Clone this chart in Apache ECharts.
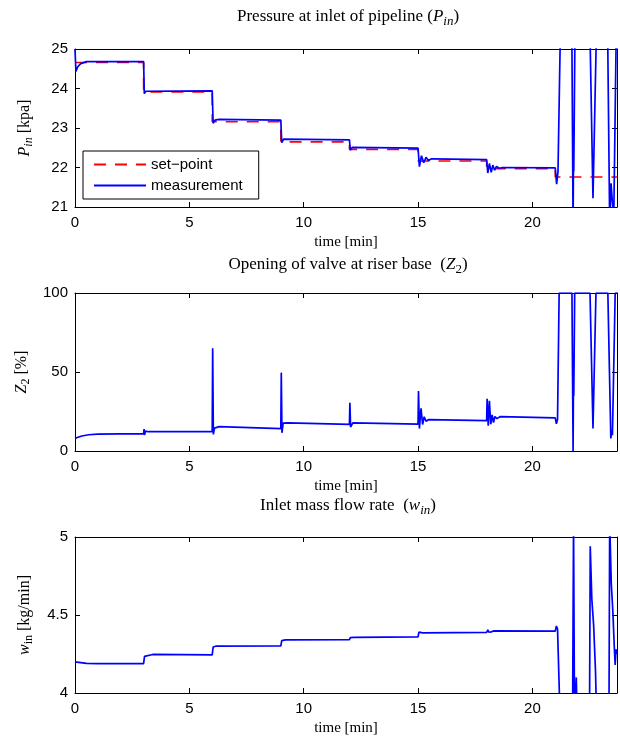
<!DOCTYPE html>
<html><head><meta charset="utf-8">
<script src="https://cdn.jsdelivr.net/npm/echarts@6/dist/echarts.min.js"></script>
<style>html,body{margin:0;padding:0;background:#fff}#c{width:620px;height:737px}</style>
</head><body><div id="c"></div>
<script>
// ---------- data ----------
const xTickLabels = [0, 5, 10, 15, 20];

// Pressure set-point [kpa]
const tSet = [0, 3, 3, 6, 6, 9, 9, 12, 12, 15, 15, 18, 18, 21, 21, 23.7];
const pSet = [24.66, 24.66, 23.91, 23.91, 23.16, 23.16, 22.65, 22.65, 22.46, 22.46, 22.165, 22.165, 21.97, 21.97, 21.76, 21.76];

// Pressure measurement [kpa]
const tP = [0, 0.04, 0.12, 0.25, 0.5, 3.0, 3.03, 3.1, 6.0, 6.04, 6.12, 6.3, 9.0, 9.04, 9.12, 12.0, 12.04, 12.12,
  15.0, 15.06, 15.15, 15.25, 15.35, 15.45, 15.6, 18.0, 18.05, 18.12, 18.2, 18.27, 18.35, 18.43, 18.55, 18.7,
  21.0, 21.06, 21.12, 21.24, 21.72, 21.78, 21.8, 21.81, 21.87, 22.5, 22.65, 22.82, 23.28, 23.38, 23.44, 23.5, 23.56, 23.68];
const pMeas = [25.0, 24.43, 24.55, 24.63, 24.68, 24.68, 23.87, 23.93, 23.94, 23.12, 23.2, 23.22, 23.2, 22.63, 22.72, 22.7, 22.44, 22.51,
  22.49, 22.02, 22.3, 22.12, 22.26, 22.18, 22.22, 22.2, 21.86, 22.1, 21.88, 22.06, 21.93, 22.03, 21.98, 22.0,
  21.99, 21.58, 21.9, 26.0, 26.0, 20.5, 22.6, 21.9, 26.0, 26.0, 21.22, 26.0, 26.0, 20.6, 21.6, 21.1, 20.8, 26.0];

// Valve opening Z2 [%]
const tZ = [0, 0.1, 0.3, 0.6, 1.0, 2.0, 3.0, 3.02, 3.04, 3.08, 3.2, 6.0, 6.02, 6.05, 6.1, 6.3, 9.0, 9.02, 9.05, 9.1, 9.3,
  12.0, 12.02, 12.05, 12.15, 15.0, 15.02, 15.06, 15.13, 15.2, 15.27, 15.35, 15.45, 18.0, 18.02, 18.07, 18.12, 18.18, 18.24,
  18.3, 18.36, 18.45, 18.6, 21.0, 21.05, 21.1, 21.17, 21.73, 21.78, 21.8, 21.81, 21.85, 22.52, 22.65, 22.78, 23.3, 23.43,
  23.47, 23.5, 23.62, 23.7];
const zMeas = [8.0, 8.5, 9.5, 10.3, 10.7, 10.8, 10.9, 13.9, 10.1, 12.6, 12.2, 12.3, 65.0, 10.5, 14.5, 15.4, 14.2, 49.6, 11.5, 17.6, 17.8,
  16.9, 30.6, 15.2, 17.8, 17.0, 38.0, 14.2, 27.0, 16.8, 21.7, 18.8, 19.8, 19.2, 33.0, 16.0, 31.8, 17.0, 22.8,
  18.0, 21.8, 20.5, 21.8, 21.0, 17.2, 20.0, 100, 100, 0, 55, 35, 100, 100, 14.3, 100, 100, 8.0,
  13.0, 10.0, 100, 100];

// Inlet mass flow rate w_in [kg/min]
const tW = [0, 0.05, 0.5, 1.0, 3.0, 3.04, 3.1, 3.4, 6.0, 6.04, 6.15, 9.0, 9.04, 9.2, 12.0, 12.04, 12.2, 15.0, 15.04, 15.1, 15.2,
  18.0, 18.05, 18.1, 18.15, 18.2, 18.3, 21.0, 21.05, 21.1, 21.2, 21.76, 21.8, 21.84, 21.88, 21.92, 21.95, 22.5, 22.53, 22.6,
  22.68, 22.76, 22.8, 23.35, 23.38, 23.45, 23.52, 23.58, 23.62, 23.66, 23.7];
const wMeas = [4.2, 4.195, 4.19, 4.188, 4.188, 4.235, 4.24, 4.247, 4.245, 4.295, 4.30, 4.302, 4.336, 4.34, 4.342, 4.355, 4.356, 4.36, 4.39, 4.378, 4.385,
  4.388, 4.405, 4.39, 4.402, 4.392, 4.398, 4.397, 4.43, 4.41, 3.9, 3.9, 5.1, 3.9, 3.95, 4.1, 3.9, 3.9, 4.94, 4.6,
  4.43, 4.14, 3.9, 3.9, 5.1, 4.7, 4.52, 4.3, 4.18, 4.28, 4.25];

// ---------- chart ----------
const SERIF = 'Liberation Serif';
const SANS = 'Liberation Sans';
const zip = (a, b) => a.map((v, i) => [v, b[i]]);

const grids = [
  {left: 75, top: 49, width: 546, height: 158},
  {left: 75, top: 293, width: 546, height: 158},
  {left: 75, top: 537, width: 546, height: 158}
];

const nameRich = {
  i: {fontFamily: SERIF, fontStyle: 'italic', fontSize: 16, color: '#000'},
  s: {fontFamily: SERIF, fontStyle: 'italic', fontSize: 12, color: '#000', padding: [9, 0, 0, 0]},
  r: {fontFamily: SERIF, fontSize: 12, color: '#000', padding: [9, 0, 0, 0]},
  n: {fontFamily: SERIF, fontSize: 16, color: '#000'}
};

const xAxes = [], yAxes = [];
const yCfg = [
  {min: 21, max: 25, interval: 1, name: '{i|P}{s|in}{n| [kpa]}'},
  {min: 0, max: 100, interval: 50, name: '{i|Z}{r|2}{n| [%]}'},
  {min: 4, max: 5, interval: 0.5, name: '{i|w}{r|in}{n| [kg/min]}'}
];
const axLine = {show: true, onZero: false, lineStyle: {color: '#000', width: 1}};
const tick = {show: true, inside: true, length: 5, lineStyle: {color: '#000'}};
for (let g = 0; g < 3; g++) {
  xAxes.push({
    gridIndex: g, type: 'value', min: 0, max: 23.7, interval: 5, position: 'bottom',
    axisLine: axLine, axisTick: tick, splitLine: {show: false},
    axisLabel: {color: '#000', fontFamily: SANS, fontSize: 15, margin: 8,
      formatter: v => (xTickLabels.indexOf(v) >= 0 ? String(v) : '')},
    name: 'time [min]', nameLocation: 'middle', nameGap: 28,
    nameTextStyle: {fontFamily: SERIF, fontSize: 15, color: '#000'}
  });
  xAxes.push({
    gridIndex: g, type: 'value', min: 0, max: 23.7, interval: 5, position: 'top',
    axisLine: axLine, axisTick: tick, splitLine: {show: false}, axisLabel: {show: false}
  });
  yAxes.push({
    gridIndex: g, type: 'value', min: yCfg[g].min, max: yCfg[g].max, interval: yCfg[g].interval, position: 'left',
    axisLine: axLine, axisTick: tick, splitLine: {show: false},
    axisLabel: {color: '#000', fontFamily: SANS, fontSize: 15, margin: 7},
    name: yCfg[g].name, nameLocation: 'middle', nameGap: 40,
    nameTextStyle: {fontFamily: SERIF, fontSize: 16, color: '#000', rich: nameRich}
  });
  yAxes.push({
    gridIndex: g, type: 'value', min: yCfg[g].min, max: yCfg[g].max, interval: yCfg[g].interval, position: 'right',
    axisLine: axLine, axisTick: tick, splitLine: {show: false}, axisLabel: {show: false}
  });
}

const lineBase = {type: 'line', showSymbol: false, symbol: 'none', clip: true, animation: false, z: 3};
const series = [
  Object.assign({}, lineBase, {name: 'set\u2212point', xAxisIndex: 0, yAxisIndex: 0, data: zip(tSet, pSet),
    lineStyle: {color: '#ff0000', width: 1.6, type: [12, 9]}, itemStyle: {color: '#ff0000'}}),
  Object.assign({}, lineBase, {name: 'measurement', xAxisIndex: 0, yAxisIndex: 0, data: zip(tP, pMeas),
    lineStyle: {color: '#0000ff', width: 1.7}, itemStyle: {color: '#0000ff'}, z: 4}),
  Object.assign({}, lineBase, {name: 'Z2', xAxisIndex: 2, yAxisIndex: 2, data: zip(tZ, zMeas),
    lineStyle: {color: '#0000ff', width: 1.7}, itemStyle: {color: '#0000ff'}}),
  Object.assign({}, lineBase, {name: 'win', xAxisIndex: 4, yAxisIndex: 4, data: zip(tW, wMeas),
    lineStyle: {color: '#0000ff', width: 1.7}, itemStyle: {color: '#0000ff'}})
];

const tRich = {
  n: {fontFamily: SERIF, fontSize: 17, color: '#000'},
  i: {fontFamily: SERIF, fontStyle: 'italic', fontSize: 17, color: '#000'},
  s: {fontFamily: SERIF, fontStyle: 'italic', fontSize: 13, color: '#000', padding: [10, 0, 0, 0]},
  r: {fontFamily: SERIF, fontSize: 13, color: '#000', padding: [10, 0, 0, 0]}
};
function titleEl(y, text) {
  return {type: 'text', x: 348, y: y, z: 10,
    style: {text: text, rich: tRich, fontFamily: SERIF, fontSize: 17, fill: '#000',
      align: 'center', textAlign: 'center', verticalAlign: 'middle', textVerticalAlign: 'middle'}};
}

const chart = echarts.init(document.getElementById('c'), null, {renderer: 'canvas'});
chart.setOption({
  animation: false,
  backgroundColor: '#fff',
  grid: grids,
  xAxis: xAxes,
  yAxis: yAxes,
  series: series,
  legend: {
    data: ['set\u2212point', 'measurement'], orient: 'vertical', left: 83, top: 151,
    backgroundColor: '#fff', borderColor: '#000', borderWidth: 1, borderRadius: 0,
    padding: [6, 16, 6, 10], itemWidth: 52, itemHeight: 14, itemGap: 6,
    itemStyle: {opacity: 0, borderWidth: 0},
    textStyle: {fontFamily: SANS, fontSize: 15, color: '#000'}, selectedMode: false
  },
  graphic: [
    titleEl(17, '{n|Pressure at inlet of pipeline (}{i|P}{s|in}{n|)}'),
    titleEl(265, '{n|Opening of valve at riser base  (}{i|Z}{r|2}{n|)}'),
    titleEl(506, '{n|Inlet mass flow rate  (}{i|w}{s|in}{n|)}')
  ]
});
</script></body></html>
